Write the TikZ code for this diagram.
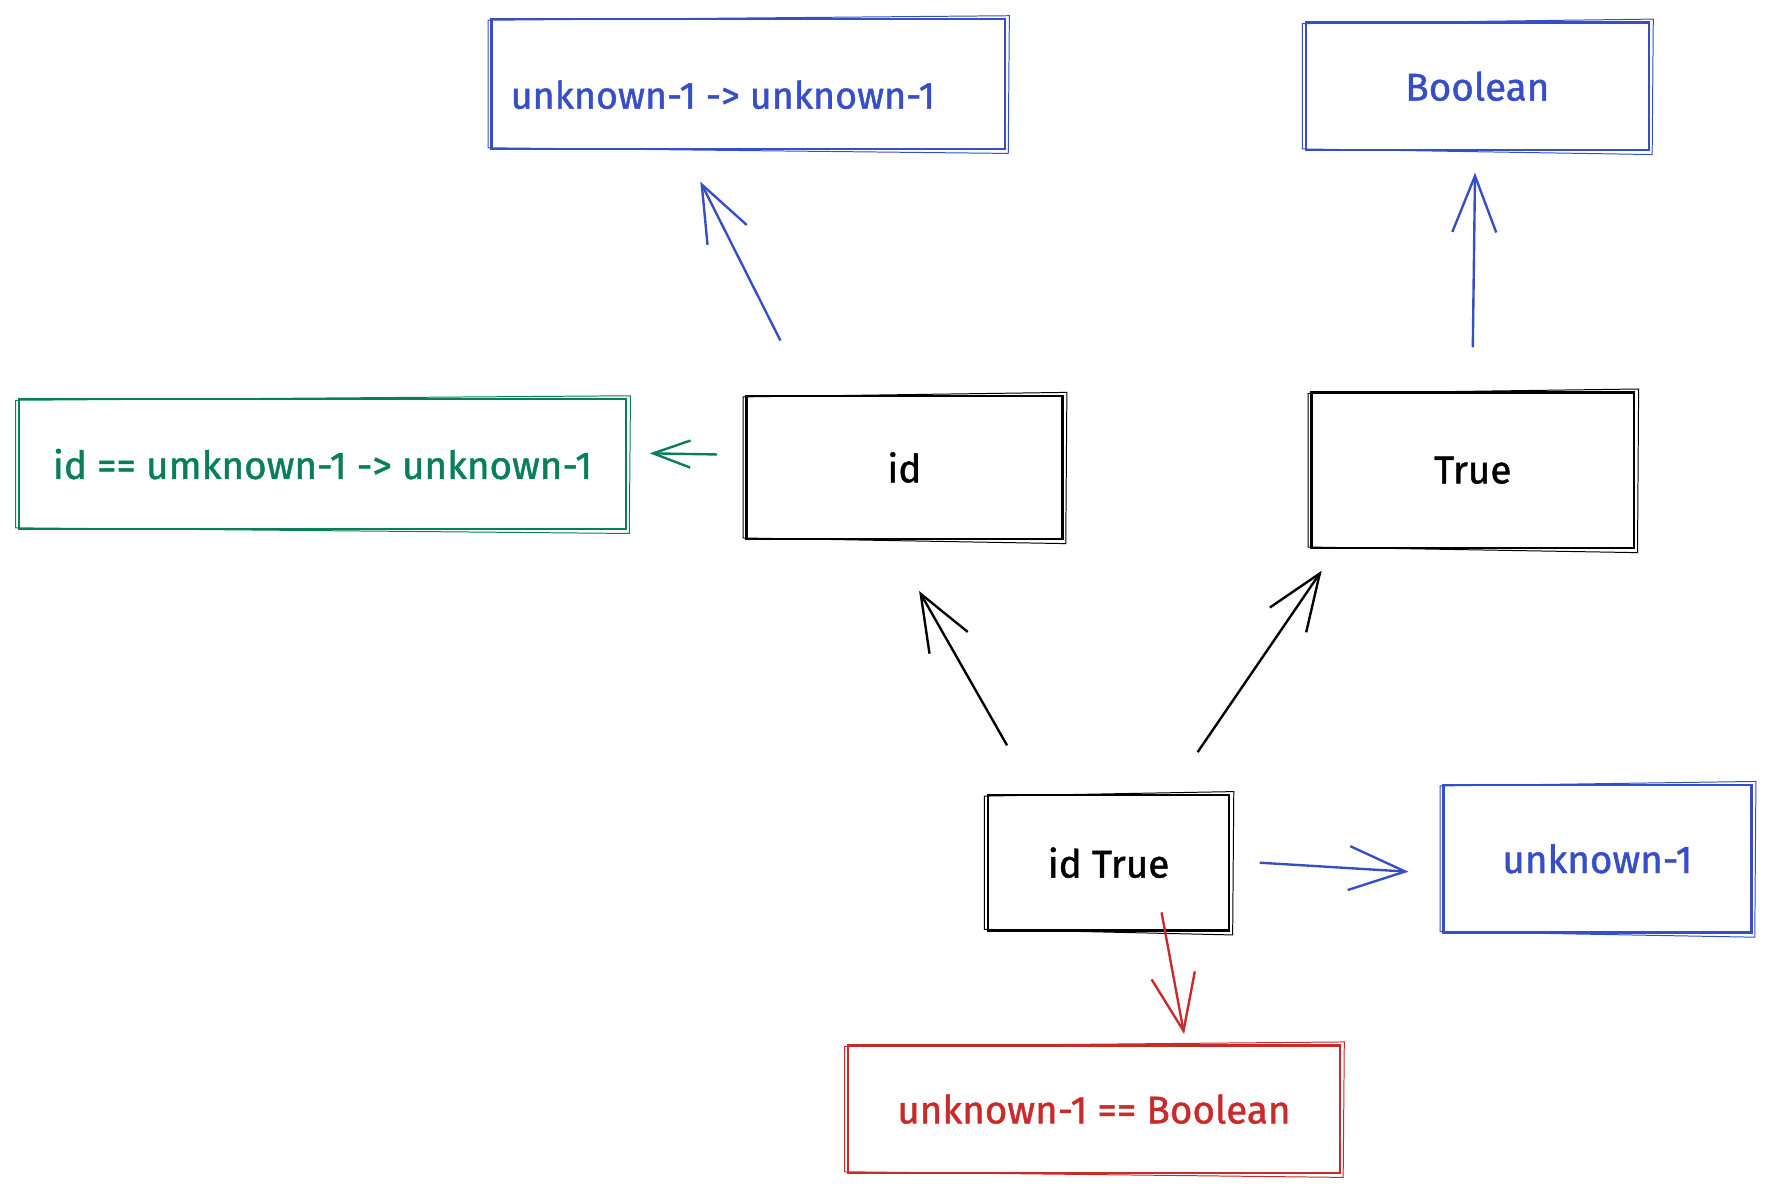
\documentclass[tikz,border=0pt]{standalone}
\usepackage{fontspec}
\setmainfont{Fira Sans}
\newfontfamily\sketchfont{Fira Sans}[FakeBold=1.2]
\usetikzlibrary{arrows.meta}
\definecolor{exblue}{HTML}{364FC7}
\definecolor{exgreen}{HTML}{087F5B}
\definecolor{exred}{HTML}{C92A2A}
\begin{document}
\begin{tikzpicture}[x=0.02cm,y=-0.02cm,
  box/.style={draw=#1, text=#1, line width=1.2pt, inner sep=0pt,
    font=\sketchfont\fontsize{19.5}{24}\selectfont},
  sz/.style 2 args={minimum width=#1*0.02cm, minimum height=#2*0.02cm},
  lbl/.style={text=#1, inner sep=0pt, font=\sketchfont\fontsize{19}{24}\selectfont},
  arr/.style={draw=#1, line width=1.2pt,
    -{Straight Barb[length=1cm,width=0.78cm,line width=1.2pt]}},
  smallarr/.style={draw=#1, line width=1.2pt,
    -{Straight Barb[length=0.66cm,width=0.48cm,line width=1.2pt]}},
  rough/.style={draw=#1, line width=0.5pt}
]
\useasboundingbox (0,0) rectangle (1566,1054.3);

% boxes
\node[box=exblue, sz={455}{115}] (topbox) at (663.5,74.5) {};
\node[lbl=exblue] (toptext) at (641,84) {unknown-1 -> unknown-1};
\node[box=exblue, sz={304}{113}] (bool) at (1310,76.5) {Boolean};
\node[box=exgreen, sz={538}{115}] (green) at (286,411.5) {id == umknown-1 -> unknown-1};
\node[box=black, sz={280}{127}] (id) at (802,414.5) {id};
\node[box=black, sz={286}{138}] (true) at (1306,417) {True};
\node[box=black, sz={214}{120}] (idtrue) at (983,765) {id True};
\node[box=exblue, sz={273}{131}] (unk) at (1416.5,761.5) {unknown-1};
\node[box=exred, sz={436}{113}] (red) at (970,983.5) {unknown-1 == Boolean};

% sketchy second strokes
\foreach \n/\c in {topbox/exblue, bool/exblue, green/exgreen, id/black,
                   true/black, idtrue/black, unk/exblue, red/exred}
  \draw[rough=\c] ([shift={(-2,2)}]\n.north west) -- ([shift={(3,-2)}]\n.north east)
     -- ([shift={(2,3)}]\n.south east) -- ([shift={(-2,-2)}]\n.south west) -- cycle;

% connectors
\draw[arr=exblue] ([shift={(-110,-48)}]id.north) -- ([shift={(-42.5,28)}]topbox.south);
\draw[arr=exblue] ([shift={(0,-39)}]true.north) -- ([shift={(-2,19)}]bool.south);
\draw[smallarr=exgreen] ([shift={(-25,-11.5)}]id.west) -- ([shift={(20,-9.5)}]green.east);
\draw[arr=black] ([shift={(-90,-43)}]idtrue.north) -- ([shift={(13,45)}]id.south);
\draw[arr=black] ([shift={(79,-37)}]idtrue.north) -- ([shift={(-134,19)}]true.south);
\draw[arr=exblue] ([shift={(26,0)}]idtrue.east) -- ([shift={(-30,11.5)}]unk.west);
\draw[arr=exred] ([shift={(47,-17)}]idtrue.south) -- ([shift={(80,-9)}]red.north);
\end{tikzpicture}
\end{document}
